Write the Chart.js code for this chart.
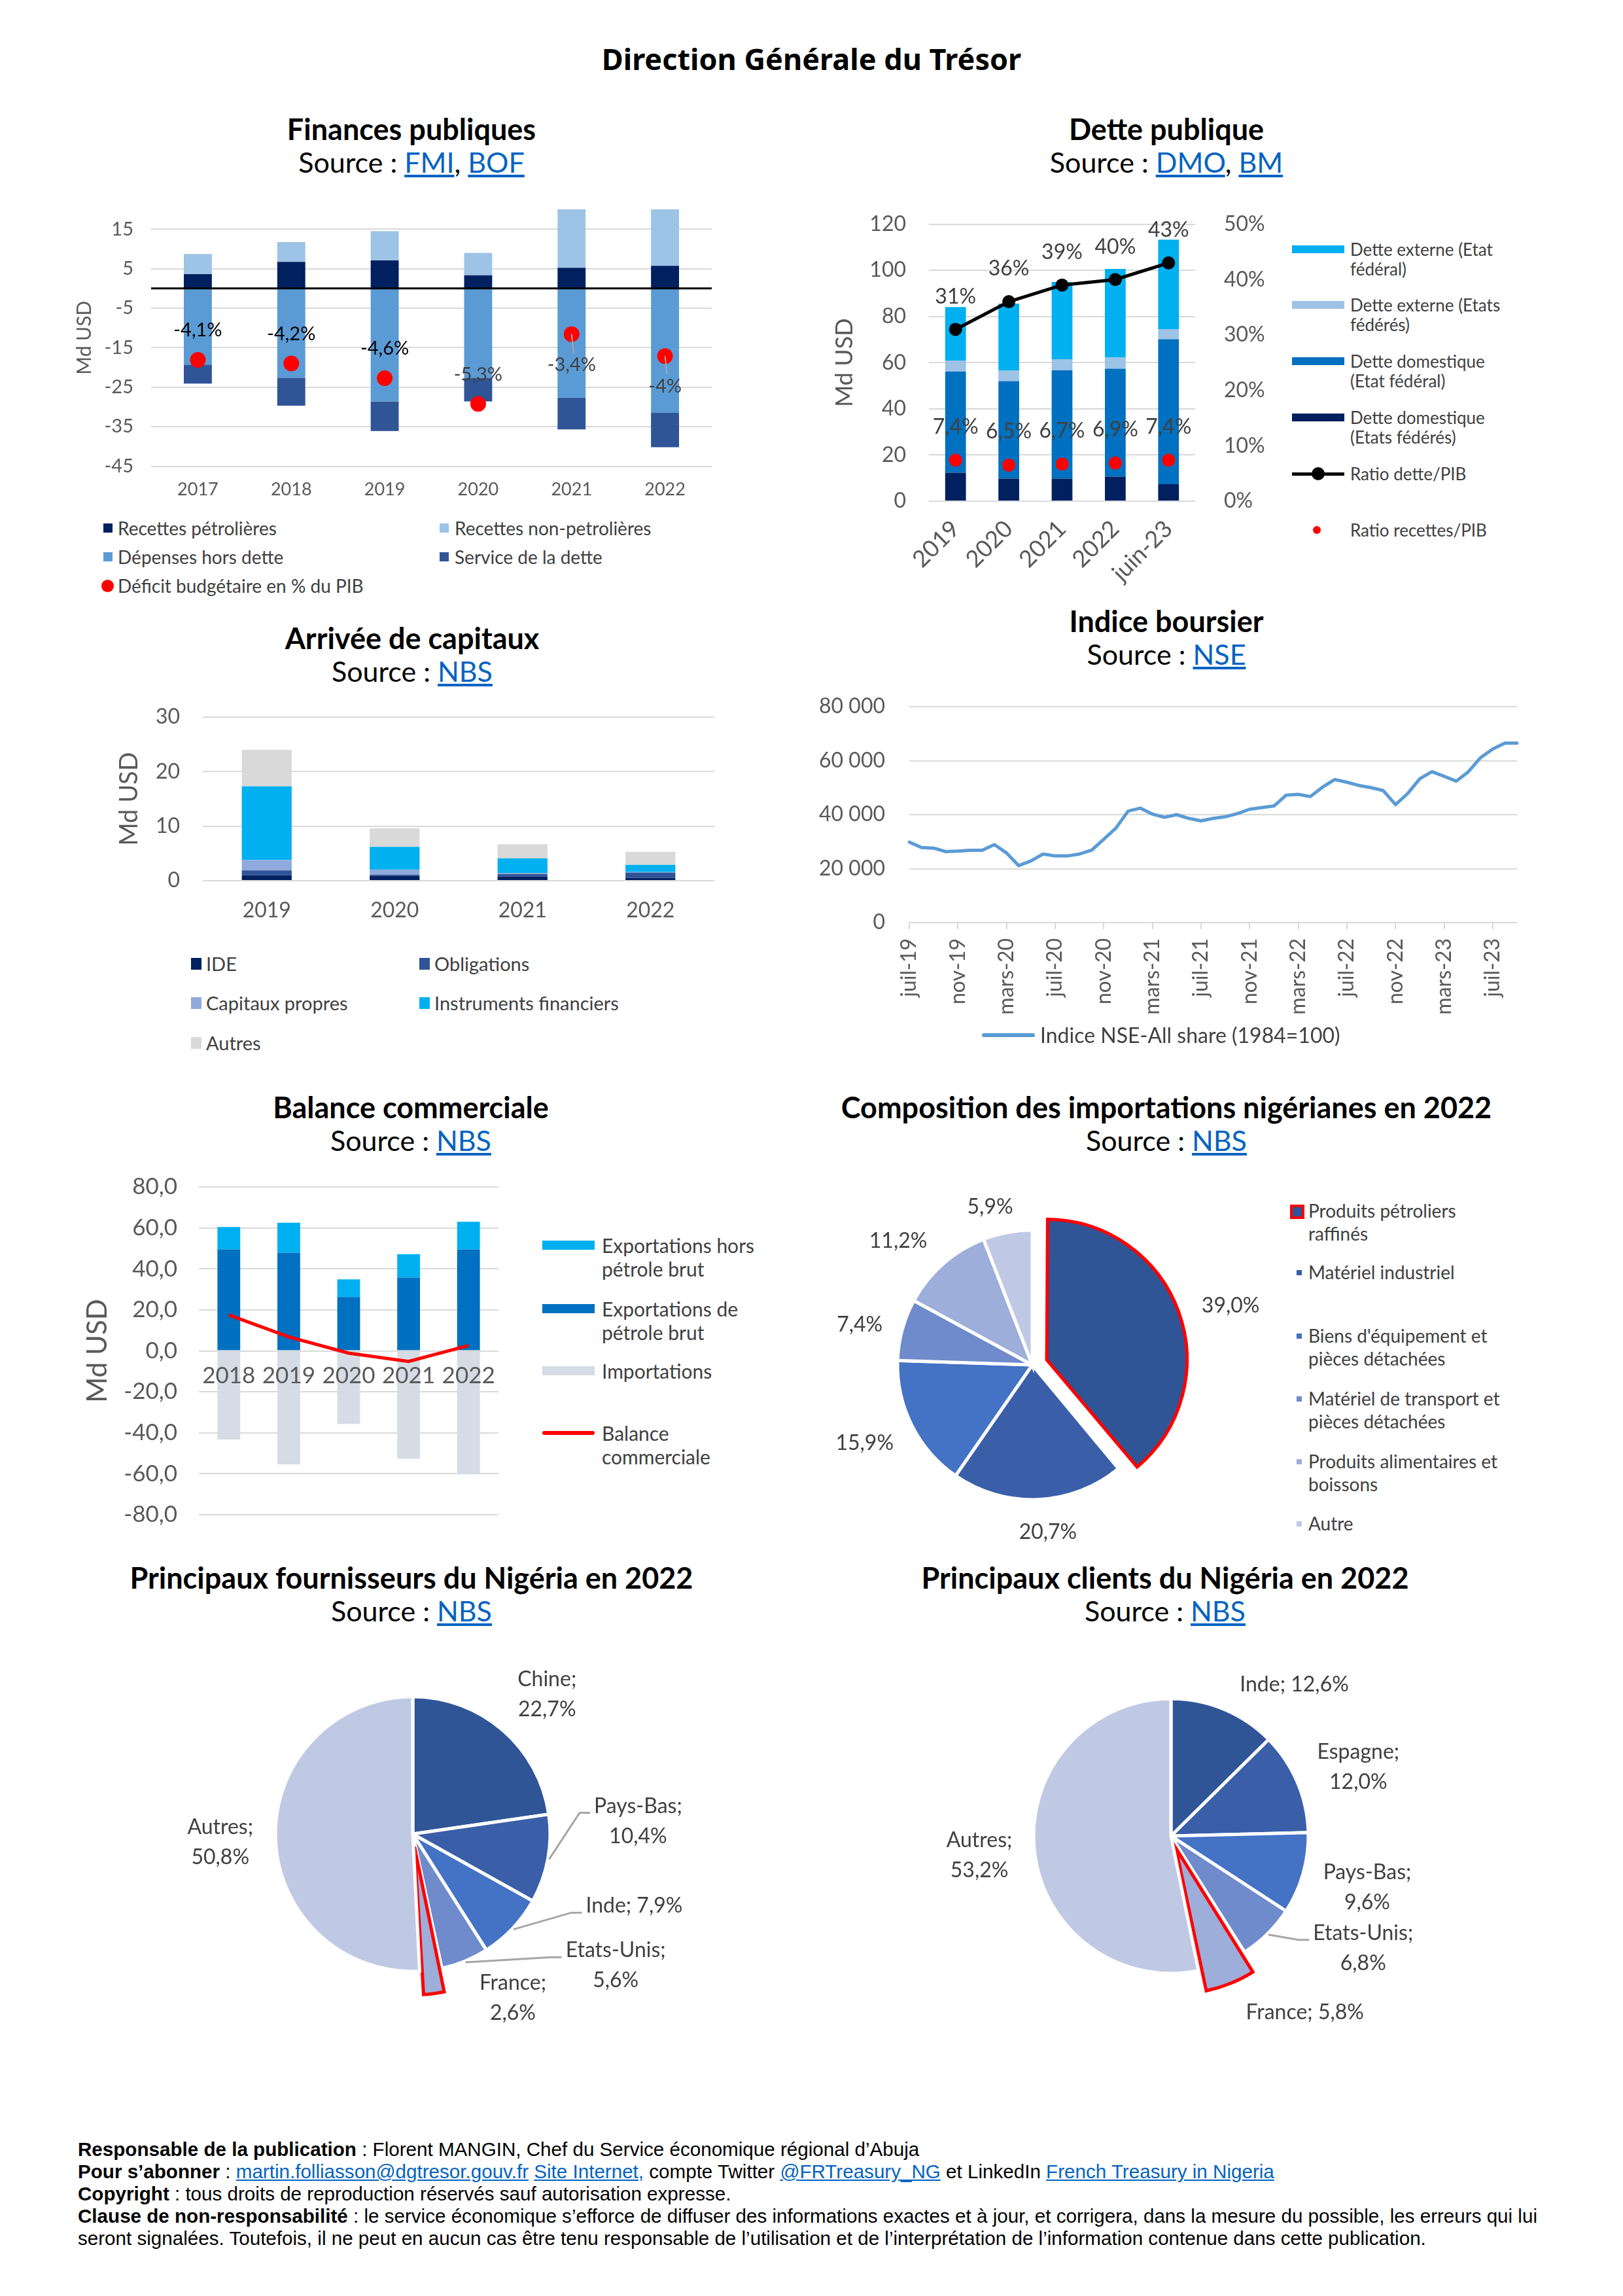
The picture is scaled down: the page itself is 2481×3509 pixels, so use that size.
<!DOCTYPE html>
<html lang="fr">
<head>
<meta charset="utf-8">
<title>Direction Générale du Trésor</title>
<script src="https://cdn.jsdelivr.net/npm/chart.js@4.4.0/dist/chart.umd.min.js"></script>
<style>
  html, body { margin: 0; padding: 0; background: #fff; }
  #page { position: relative; width: 2481px; height: 3509px; font-family: Lato, 'Noto Sans', sans-serif; color: #000; overflow: hidden; }
  .head { position: absolute; left: 0; width: 2481px; top: 64px; text-align: center; font-family: 'Noto Sans', sans-serif; font-weight: 700; font-size: 45px; line-height: 52px; }
  .ttl { position: absolute; width: 1100px; text-align: center; font-size: 43px; line-height: 50px; }
  .ttl b { font-weight: 700; font-size: 45px; }
  a { color: #0563C1; text-decoration: underline; }
  .box { position: absolute; }
  .leg { position: absolute; color: #404040; white-space: nowrap; }
  .mk { position: absolute; }
  #footer { position: absolute; left: 119px; top: 3268px; font-family: 'Liberation Sans', Arial, sans-serif; font-size: 29.6px; line-height: 34px; white-space: nowrap; color: #000; }
</style>
</head>
<body>
<div id="page">
  <div class="head">Direction Générale du Trésor</div>

  <!-- titres -->
  <div class="ttl" style="left:79px;top:172px"><b>Finances publiques</b><br>Source : <a>FMI</a>, <a>BOF</a></div>
  <div class="ttl" style="left:1233px;top:172px"><b>Dette publique</b><br>Source : <a>DMO</a>, <a>BM</a></div>
  <div class="ttl" style="left:80px;top:950px"><b>Arrivée de capitaux</b><br>Source : <a>NBS</a></div>
  <div class="ttl" style="left:1233px;top:924px"><b>Indice boursier</b><br>Source : <a>NSE</a></div>
  <div class="ttl" style="left:78px;top:1667px"><b>Balance commerciale</b><br>Source : <a>NBS</a></div>
  <div class="ttl" style="left:1233px;top:1667px"><b>Composition des importations nigérianes en 2022</b><br>Source : <a>NBS</a></div>
  <div class="ttl" style="left:79px;top:2386px"><b>Principaux fournisseurs du Nigéria en 2022</b><br>Source : <a>NBS</a></div>
  <div class="ttl" style="left:1231px;top:2386px"><b>Principaux clients du Nigéria en 2022</b><br>Source : <a>NBS</a></div>

  <!-- graphiques -->
  <div class="box" style="left:100px;top:300px;width:1000px;height:480px"><canvas id="financeChart"></canvas></div>
  <div class="box" style="left:1250px;top:300px;width:700px;height:620px"><canvas id="debtChart"></canvas></div>
  <div class="box" style="left:100px;top:1060px;width:1000px;height:370px"><canvas id="capitalChart"></canvas></div>
  <div class="box" style="left:1250px;top:1050px;width:1090px;height:520px"><canvas id="stockChart"></canvas></div>
  <div class="box" style="left:100px;top:1790px;width:680px;height:560px"><canvas id="tradeChart"></canvas></div>
  <div class="box" style="left:1200px;top:1800px;width:756px;height:572px"><canvas id="importChart"></canvas></div>
  <div class="box" style="left:181px;top:2493px;width:900px;height:620px"><canvas id="supplierChart"></canvas></div>
  <div class="box" style="left:1390px;top:2496px;width:800px;height:620px"><canvas id="clientChart"></canvas></div>

  <!-- légende finances publiques -->
  <div class="mk" style="left:158px;top:800px;width:14px;height:14px;background:#002060"></div>
  <div class="leg" style="left:180px;top:791px;font-size:28px;line-height:32px">Recettes pétrolières</div>
  <div class="mk" style="left:672px;top:800px;width:14px;height:14px;background:#9DC3E6"></div>
  <div class="leg" style="left:695px;top:791px;font-size:28px;line-height:32px">Recettes non-petrolières</div>
  <div class="mk" style="left:158px;top:844px;width:14px;height:14px;background:#5B9BD5"></div>
  <div class="leg" style="left:180px;top:835px;font-size:28px;line-height:32px">Dépenses hors dette</div>
  <div class="mk" style="left:672px;top:844px;width:14px;height:14px;background:#2F5597"></div>
  <div class="leg" style="left:695px;top:835px;font-size:28px;line-height:32px">Service de la dette</div>
  <div class="mk" style="left:155px;top:886px;width:19px;height:19px;border-radius:50%;background:#FF0000"></div>
  <div class="leg" style="left:180px;top:879px;font-size:28px;line-height:32px">Déficit budgétaire en % du PIB</div>

  <!-- légende dette publique -->
  <div class="mk" style="left:1975px;top:375px;width:80px;height:12px;background:#00B0F0"></div>
  <div class="leg" style="left:2064px;top:366px;font-size:26px;line-height:30px">Dette externe (Etat<br>fédéral)</div>
  <div class="mk" style="left:1975px;top:460px;width:80px;height:12px;background:#9DC3E6"></div>
  <div class="leg" style="left:2064px;top:451px;font-size:26px;line-height:30px">Dette externe (Etats<br>fédérés)</div>
  <div class="mk" style="left:1975px;top:546px;width:80px;height:12px;background:#0070C0"></div>
  <div class="leg" style="left:2064px;top:537px;font-size:26px;line-height:30px">Dette domestique<br>(Etat fédéral)</div>
  <div class="mk" style="left:1975px;top:632px;width:80px;height:12px;background:#002060"></div>
  <div class="leg" style="left:2064px;top:623px;font-size:26px;line-height:30px">Dette domestique<br>(Etats fédérés)</div>
  <div class="mk" style="left:1975px;top:722px;width:80px;height:5px;background:#000"></div>
  <div class="mk" style="left:2005px;top:714px;width:20px;height:20px;border-radius:50%;background:#000"></div>
  <div class="leg" style="left:2064px;top:709px;font-size:26px;line-height:30px">Ratio dette/PIB</div>
  <div class="mk" style="left:2007px;top:804px;width:12px;height:12px;border-radius:50%;background:#FF0000"></div>
  <div class="leg" style="left:2064px;top:795px;font-size:26px;line-height:30px">Ratio recettes/PIB</div>

  <!-- légende arrivée de capitaux -->
  <div class="mk" style="left:292px;top:1464px;width:16px;height:18px;background:#002060"></div>
  <div class="leg" style="left:315px;top:1456px;font-size:29px;line-height:34px">IDE</div>
  <div class="mk" style="left:641px;top:1464px;width:16px;height:18px;background:#2F5597"></div>
  <div class="leg" style="left:664px;top:1456px;font-size:29px;line-height:34px">Obligations</div>
  <div class="mk" style="left:292px;top:1524px;width:16px;height:18px;background:#8FAADC"></div>
  <div class="leg" style="left:315px;top:1516px;font-size:29px;line-height:34px">Capitaux propres</div>
  <div class="mk" style="left:641px;top:1524px;width:16px;height:18px;background:#00B0F0"></div>
  <div class="leg" style="left:664px;top:1516px;font-size:29px;line-height:34px">Instruments financiers</div>
  <div class="mk" style="left:292px;top:1585px;width:16px;height:18px;background:#D9D9D9"></div>
  <div class="leg" style="left:315px;top:1577px;font-size:29px;line-height:34px">Autres</div>

  <!-- légende indice boursier -->
  <div class="mk" style="left:1501px;top:1579px;width:81px;height:6px;border-radius:3px;background:#5B9BD5"></div>
  <div class="leg" style="left:1590px;top:1563px;font-size:32px;line-height:38px">Indice NSE-All share (1984=100)</div>

  <!-- légende balance commerciale -->
  <div class="mk" style="left:829px;top:1896px;width:80px;height:14px;background:#00B0F0"></div>
  <div class="leg" style="left:920px;top:1885px;font-size:30px;line-height:36px">Exportations hors<br>pétrole brut</div>
  <div class="mk" style="left:829px;top:1993px;width:80px;height:14px;background:#0070C0"></div>
  <div class="leg" style="left:920px;top:1982px;font-size:30px;line-height:36px">Exportations de<br>pétrole brut</div>
  <div class="mk" style="left:829px;top:2088px;width:80px;height:14px;background:#D6DCE5"></div>
  <div class="leg" style="left:920px;top:2077px;font-size:30px;line-height:36px">Importations</div>
  <div class="mk" style="left:829px;top:2187px;width:80px;height:6px;border-radius:3px;background:#FF0000"></div>
  <div class="leg" style="left:920px;top:2172px;font-size:30px;line-height:36px">Balance<br>commerciale</div>

  <!-- légende composition des importations -->
  <div class="mk" style="left:1972px;top:1841px;width:14px;height:14px;border:4px solid #FF0000;background:#2F5597"></div>
  <div class="leg" style="left:2000px;top:1833px;font-size:28px;line-height:35px">Produits pétroliers<br>raffinés</div>
  <div class="mk" style="left:1982px;top:1941px;width:8px;height:8px;background:#3A5FA8"></div>
  <div class="leg" style="left:2000px;top:1927px;font-size:28px;line-height:35px">Matériel industriel</div>
  <div class="mk" style="left:1982px;top:2038px;width:8px;height:8px;background:#4472C4"></div>
  <div class="leg" style="left:2000px;top:2024px;font-size:28px;line-height:35px">Biens d'équipement et<br>pièces détachées</div>
  <div class="mk" style="left:1982px;top:2134px;width:8px;height:8px;background:#6F8BCB"></div>
  <div class="leg" style="left:2000px;top:2120px;font-size:28px;line-height:35px">Matériel de transport et<br>pièces détachées</div>
  <div class="mk" style="left:1982px;top:2230px;width:8px;height:8px;background:#9DAEDB"></div>
  <div class="leg" style="left:2000px;top:2216px;font-size:28px;line-height:35px">Produits alimentaires et<br>boissons</div>
  <div class="mk" style="left:1982px;top:2325px;width:8px;height:8px;background:#C0C9E4"></div>
  <div class="leg" style="left:2000px;top:2311px;font-size:28px;line-height:35px">Autre</div>

  <div id="footer">
    <b>Responsable de la publication</b> : Florent MANGIN, Chef du Service économique régional d’Abuja<br>
    <b>Pour s’abonner</b> : <a>martin.folliasson@dgtresor.gouv.fr</a> <a>Site Internet,</a> compte Twitter <a>@FRTreasury_NG</a> et LinkedIn <a>French Treasury in Nigeria</a><br>
    <b>Copyright</b> : tous droits de reproduction réservés sauf autorisation expresse.<br>
    <b>Clause de non-responsabilité</b> : le service économique s’efforce de diffuser des informations exactes et à jour, et corrigera, dans la mesure du possible, les erreurs qui lui<br>
    seront signalées. Toutefois, il ne peut en aucun cas être tenu responsable de l’utilisation et de l’interprétation de l’information contenue dans cette publication.
  </div>
</div>

<script>
// Finances publiques (Md USD)
const financeYears = ['2017', '2018', '2019', '2020', '2021', '2022'];
const oilRevenue = [3.6, 6.7, 7.1, 3.3, 5.2, 5.7];
const nonOilRevenue = [5.1, 5.0, 7.4, 5.7, 16.0, 16.0];
const spendingExDebt = [-19.3, -22.6, -28.6, -22.6, -27.6, -31.5];
const debtService = [-4.8, -7.1, -7.5, -6.0, -8.1, -8.7];
const deficitPct = [-4.1, -4.2, -4.6, -5.3, -3.4, -4.0];
const financeTicks = [-45, -35, -25, -15, -5, 5, 15];

// Dette publique (Md USD, % du PIB)
const debtPeriods = ['2019', '2020', '2021', '2022', 'juin-23'];
const domesticStates = [12.3, 9.8, 9.8, 10.6, 7.4];
const domesticFederal = [43.9, 42.2, 46.9, 46.8, 62.7];
const externalStates = [4.7, 4.7, 4.8, 4.8, 4.4];
const externalFederal = [23.2, 28.9, 33.4, 38.4, 38.8];
const debtToGdp = [31, 36, 39, 40, 43];
const revenueToGdp = [7.4, 6.5, 6.7, 6.9, 7.4];

// Arrivée de capitaux (Md USD)
const capitalYears = ['2019', '2020', '2021', '2022'];
const fdiFlows = [1.0, 0.9, 0.75, 0.5];
const bondFlows = [0.9, 0.2, 0.45, 1.0];
const equityFlows = [1.9, 0.9, 0.25, 0.1];
const instrumentFlows = [13.5, 4.2, 2.65, 1.3];
const otherFlows = [6.7, 3.4, 2.6, 2.4];

// Indice NSE-All share
const stockMonths = [
  'juil-19', 'août-19', 'sept-19', 'oct-19', 'nov-19', 'déc-19',
  'janv-20', 'févr-20', 'mars-20', 'avr-20', 'mai-20', 'juin-20', 'juil-20', 'août-20', 'sept-20', 'oct-20', 'nov-20', 'déc-20',
  'janv-21', 'févr-21', 'mars-21', 'avr-21', 'mai-21', 'juin-21', 'juil-21', 'août-21', 'sept-21', 'oct-21', 'nov-21', 'déc-21',
  'janv-22', 'févr-22', 'mars-22', 'avr-22', 'mai-22', 'juin-22', 'juil-22', 'août-22', 'sept-22', 'oct-22', 'nov-22', 'déc-22',
  'janv-23', 'févr-23', 'mars-23', 'avr-23', 'mai-23', 'juin-23', 'juil-23', 'août-23', 'sept-23'
];
const stockIndex = [
  29800, 27800, 27600, 26300, 26500, 26800,
  26800, 28900, 25800, 21100, 22800, 25400, 24700, 24700, 25400, 26800, 30900, 35000,
  41300, 42400, 40200, 39000, 40000, 38600, 37700, 38600, 39200, 40400, 42000, 42600,
  43200, 47200, 47500, 46700, 50200, 53000, 52000, 50800, 50000, 48900, 43700, 47800,
  53300, 55900, 54200, 52400, 55900, 61100, 64300, 66500, 66500
];

// Balance commerciale (Md USD)
const tradeYears = ['2018', '2019', '2020', '2021', '2022'];
const crudeExports = [49.5, 47.8, 26.3, 35.8, 49.5];
const nonCrudeExports = [10.9, 14.7, 8.6, 11.4, 13.5];
const importValues = [-43.3, -55.4, -35.7, -52.7, -60.3];
const tradeBalance = [17.5, 6.8, -1.1, -5.2, 2.6];

// Composition des importations 2022 (%)
const importCategories = ['Produits pétroliers raffinés', 'Matériel industriel', "Biens d'équipement et pièces détachées",
  'Matériel de transport et pièces détachées', 'Produits alimentaires et boissons', 'Autre'];
const importShares = [39.0, 20.7, 15.9, 7.4, 11.2, 5.9];

// Fournisseurs et clients 2022 (%)
const supplierNames = ['Chine', 'Pays-Bas', 'Inde', 'Etats-Unis', 'France', 'Autres'];
const supplierShares = [22.7, 10.4, 7.9, 5.6, 2.6, 50.8];
const clientNames = ['Inde', 'Espagne', 'Pays-Bas', 'Etats-Unis', 'France', 'Autres'];
const clientShares = [12.6, 12.0, 9.6, 6.8, 5.8, 53.2];

const pieShades = ['#2F5597', '#3A5FA8', '#4472C4', '#6F8BCB', '#9DAEDB', '#C0C9E4'];

Chart.defaults.font.family = "Lato, 'Noto Sans', sans-serif";
Chart.defaults.color = '#595959';
Chart.defaults.animation = false;
Chart.defaults.plugins.legend.display = false;
Chart.defaults.plugins.tooltip.enabled = false;

// largeur / hauteur fixes des axes, sans la marge ajoutée par les étiquettes
function fixWidth(w) {
    return function (scale) { scale.width = w; scale.paddingTop = 0; scale.paddingBottom = 0; };
}
function fixHeight(h) {
    return function (scale) { scale.height = h; scale.paddingLeft = 0; scale.paddingRight = 0; };
}
function frPct(v) { return String(v).replace('.', ',') + '%'; }
function frPct1(v) { return v.toFixed(1).replace('.', ',') + '%'; }

const gridStyle = { color: '#D9D9D9', lineWidth: 2, drawTicks: false };

// texte au-dessus / au-dessous des points
const pointText = {
    id: 'pointText',
    afterDatasetsDraw(chart) {
        const ctx = chart.ctx;
        chart.data.datasets.forEach((ds, di) => {
            if (!ds.pointText) return;
            const meta = chart.getDatasetMeta(di);
            ctx.save();
            ctx.font = ds.pointTextSize + 'px Lato';
            ctx.textAlign = 'center';
            ctx.textBaseline = 'middle';
            meta.data.forEach((pt, i) => {
                const dy = Array.isArray(ds.pointTextDy) ? ds.pointTextDy[i] : ds.pointTextDy;
                if (ds.pointTextLeader && ds.pointTextLeader[i]) {
                    ctx.beginPath();
                    ctx.moveTo(pt.x, pt.y);
                    ctx.lineTo(pt.x + 3, pt.y + dy - 18);
                    ctx.strokeStyle = '#A6A6A6';
                    ctx.lineWidth = 2;
                    ctx.stroke();
                }
                ctx.fillStyle = Array.isArray(ds.pointTextColor) ? ds.pointTextColor[i] : ds.pointTextColor;
                ctx.fillText(ds.pointText[i], pt.x, pt.y + dy);
            });
            ctx.restore();
        });
    }
};

// ligne noire du zéro, par-dessus les barres
const zeroLine = {
    id: 'zeroLine',
    afterDatasetsDraw(chart) {
        const {ctx, chartArea, scales} = chart;
        const y = scales.y.getPixelForValue(0);
        ctx.save();
        ctx.beginPath();
        ctx.moveTo(chartArea.left, y);
        ctx.lineTo(chartArea.right, y);
        ctx.strokeStyle = '#000';
        ctx.lineWidth = 3;
        ctx.stroke();
        ctx.restore();
    }
};

// étiquettes des secteurs
const pieLabels = {
    id: 'pieLabels',
    afterDatasetsDraw(chart, args, opts) {
        const ctx = chart.ctx;
        const meta = chart.getDatasetMeta(0);
        ctx.save();
        ctx.font = opts.size + 'px Lato';
        ctx.fillStyle = '#404040';
        ctx.textAlign = 'center';
        ctx.textBaseline = 'middle';
        meta.data.forEach((arc, i) => {
            const lines = opts.texts[i];
            const mid = (arc.startAngle + arc.endAngle) / 2;
            const dx = Math.cos(mid), dy = Math.sin(mid);
            const circ = arc.endAngle - arc.startAngle;
            const shift = (arc.options.offset || 0) / 4 * (2 - Math.sin(Math.min(Math.PI, circ)));
            const r = arc.outerRadius + shift;
            const w = Math.max(...lines.map(t => ctx.measureText(t).width));
            const h = lines.length * opts.lineHeight;
            const nudge = opts.nudges[i];
            const cx = arc.x + dx * (r + opts.gap) + dx * w / 2 + nudge[0];
            const cy = arc.y + dy * (r + opts.gap) + dy * h / 2 + nudge[1];
            const top = cy - h / 2;
            if (opts.leaders && opts.leaders[i]) {
                const lx = cx - w / 2, ly = top + opts.lineHeight / 2 + 10;
                ctx.beginPath();
                ctx.moveTo(arc.x + dx * (r + 2), arc.y + dy * (r + 2));
                ctx.lineTo(lx - 22, ly);
                ctx.lineTo(lx - 6, ly);
                ctx.strokeStyle = '#A6A6A6';
                ctx.lineWidth = 3;
                ctx.stroke();
            }
            lines.forEach((t, k) => ctx.fillText(t, cx, top + opts.lineHeight * (k + 0.5)));
        });
        ctx.restore();
    }
};

// --- Finances publiques ---
new Chart(document.getElementById('financeChart'), {
    type: 'bar',
    data: {
        labels: financeYears,
        datasets: [
            {label: 'Recettes pétrolières', data: oilRevenue, backgroundColor: '#002060', order: 1},
            {label: 'Recettes non-petrolières', data: nonOilRevenue, backgroundColor: '#9DC3E6', order: 1},
            {label: 'Dépenses hors dette', data: spendingExDebt, backgroundColor: '#5B9BD5', order: 1},
            {label: 'Service de la dette', data: debtService, backgroundColor: '#2F5597', order: 1},
            {
                type: 'line', label: 'Déficit budgétaire en % du PIB', data: deficitPct, yAxisID: 'y1',
                showLine: false, pointRadius: 12, pointBorderWidth: 0, pointBackgroundColor: '#FF0000', order: 0,
                pointText: deficitPct.map(frPct), pointTextSize: 29,
                pointTextDy: [-45, -45, -45, -45, 47, 46],
                pointTextLeader: [false, false, false, false, true, true],
                pointTextColor: ['#000', '#000', '#000', '#404040', '#404040', '#404040']
            }
        ]
    },
    options: {
        responsive: true,
        maintainAspectRatio: false,
        layout: {padding: {top: 20, right: 11}},
        datasets: {bar: {barPercentage: 0.30, categoryPercentage: 1}},
        scales: {
            x: {
                stacked: true,
                afterFit: fixHeight(67.5),
                grid: {display: false},
                border: {display: false},
                ticks: {font: {size: 27}, padding: 12}
            },
            y: {
                stacked: true, min: -45, max: 20,
                afterFit: fixWidth(131),
                afterBuildTicks: function (scale) { scale.ticks = financeTicks.map(v => ({value: v})); },
                grid: gridStyle,
                border: {display: false},
                ticks: {font: {size: 29}, padding: 27},
                title: {display: true, text: 'Md USD', font: {size: 30}, color: '#595959', padding: {top: 11, bottom: 0}}
            },
            y1: {display: false, min: -7, max: 0}
        }
    },
    plugins: [zeroLine, pointText]
});

// --- Dette publique ---
new Chart(document.getElementById('debtChart'), {
    type: 'bar',
    data: {
        labels: debtPeriods,
        datasets: [
            {label: 'Dette domestique (Etats fédérés)', data: domesticStates, backgroundColor: '#002060', order: 1},
            {label: 'Dette domestique (Etat fédéral)', data: domesticFederal, backgroundColor: '#0070C0', order: 1},
            {label: 'Dette externe (Etats fédérés)', data: externalStates, backgroundColor: '#9DC3E6', order: 1},
            {label: 'Dette externe (Etat fédéral)', data: externalFederal, backgroundColor: '#00B0F0', order: 1},
            {
                type: 'line', label: 'Ratio dette/PIB', data: debtToGdp, yAxisID: 'y1', order: 0,
                borderColor: '#000', borderWidth: 5, tension: 0,
                pointRadius: 10, pointBorderWidth: 0, pointBackgroundColor: '#000',
                pointText: debtToGdp.map(v => v + '%'), pointTextSize: 32, pointTextDy: -50, pointTextColor: '#404040'
            },
            {
                type: 'line', label: 'Ratio recettes/PIB', data: revenueToGdp, yAxisID: 'y1', order: 0,
                showLine: false, pointRadius: 10, pointBorderWidth: 0, pointBackgroundColor: '#FF0000',
                pointText: revenueToGdp.map(frPct), pointTextSize: 32, pointTextDy: -51, pointTextColor: '#404040'
            }
        ]
    },
    options: {
        responsive: true,
        maintainAspectRatio: false,
        layout: {padding: {top: 42.5, right: 0}},
        datasets: {bar: {barPercentage: 0.39, categoryPercentage: 1}},
        scales: {
            x: {
                stacked: true,
                afterFit: fixHeight(154),
                grid: {display: false},
                border: {display: false},
                ticks: {font: {size: 36}, minRotation: 45, maxRotation: 45, padding: 13}
            },
            y: {
                stacked: true, min: 0, max: 120,
                afterFit: fixWidth(170),
                grid: gridStyle,
                border: {display: false},
                ticks: {stepSize: 20, font: {size: 32}, padding: 35},
                title: {display: true, text: 'Md USD', font: {size: 36}, color: '#595959', padding: {top: 20, bottom: 0}}
            },
            y1: {
                position: 'right', min: 0, max: 50,
                afterFit: fixWidth(123),
                grid: {display: false},
                border: {display: false},
                ticks: {stepSize: 10, font: {size: 32}, padding: 36, callback: v => v + '%'}
            }
        }
    },
    plugins: [pointText]
});

// --- Arrivée de capitaux ---
new Chart(document.getElementById('capitalChart'), {
    type: 'bar',
    data: {
        labels: capitalYears,
        datasets: [
            {label: 'IDE', data: fdiFlows, backgroundColor: '#002060'},
            {label: 'Obligations', data: bondFlows, backgroundColor: '#2F5597'},
            {label: 'Capitaux propres', data: equityFlows, backgroundColor: '#8FAADC'},
            {label: 'Instruments financiers', data: instrumentFlows, backgroundColor: '#00B0F0'},
            {label: 'Autres', data: otherFlows, backgroundColor: '#D9D9D9'}
        ]
    },
    options: {
        responsive: true,
        maintainAspectRatio: false,
        layout: {padding: {top: 36, right: 8}},
        datasets: {bar: {barPercentage: 0.39, categoryPercentage: 1}},
        scales: {
            x: {
                stacked: true,
                afterFit: fixHeight(84),
                grid: {display: false},
                border: {display: false},
                ticks: {font: {size: 32}, padding: 18}
            },
            y: {
                stacked: true, min: 0, max: 30,
                afterFit: fixWidth(210),
                grid: gridStyle,
                border: {display: false},
                ticks: {stepSize: 10, font: {size: 32}, padding: 35},
                title: {display: true, text: 'Md USD', font: {size: 38}, color: '#595959', padding: {top: 75, bottom: 0}}
            }
        }
    }
});

// --- Indice boursier ---
new Chart(document.getElementById('stockChart'), {
    type: 'line',
    data: {
        labels: stockMonths,
        datasets: [{
            label: 'Indice NSE-All share (1984=100)', data: stockIndex,
            borderColor: '#5B9BD5', borderWidth: 5, pointRadius: 0, tension: 0,
            borderJoinStyle: 'round', borderCapStyle: 'round'
        }]
    },
    options: {
        responsive: true,
        maintainAspectRatio: false,
        layout: {padding: {top: 30, right: 21}},
        scales: {
            x: {
                afterFit: fixHeight(160),
                grid: {drawOnChartArea: false, drawTicks: true, tickLength: 10, color: '#D9D9D9', lineWidth: 2},
                border: {display: false},
                ticks: {
                    autoSkip: false, minRotation: 90, maxRotation: 90, font: {size: 32}, padding: 14,
                    callback: function (value, index) { return index % 4 === 0 ? stockMonths[index] : null; }
                }
            },
            y: {
                min: 0, max: 80000,
                afterFit: fixWidth(140),
                grid: gridStyle,
                border: {display: false},
                ticks: {stepSize: 20000, font: {size: 32}, padding: 37, callback: v => v === 0 ? '0' : (v / 1000) + ' 000'}
            }
        }
    }
});

// --- Balance commerciale ---
new Chart(document.getElementById('tradeChart'), {
    type: 'bar',
    data: {
        labels: tradeYears,
        datasets: [
            {label: 'Exportations de pétrole brut', data: crudeExports, backgroundColor: '#0070C0', order: 1},
            {label: 'Exportations hors pétrole brut', data: nonCrudeExports, backgroundColor: '#00B0F0', order: 1},
            {label: 'Importations', data: importValues, backgroundColor: '#D6DCE5', order: 1},
            {
                type: 'line', label: 'Balance commerciale', data: tradeBalance, order: 0,
                borderColor: '#FF0000', borderWidth: 5, pointRadius: 0, tension: 0
            }
        ]
    },
    options: {
        responsive: true,
        maintainAspectRatio: false,
        layout: {padding: {top: 24, right: 18, bottom: 35}},
        datasets: {bar: {barPercentage: 0.38, categoryPercentage: 1}},
        scales: {
            x: {
                stacked: true,
                position: {y: 0},
                afterFit: function (scale) { scale.paddingLeft = 0; scale.paddingRight = 0; },
                grid: {display: false},
                border: {display: false},
                ticks: {font: {size: 35}, padding: 9, z: 1}
            },
            y: {
                stacked: true, min: -80, max: 80,
                afterFit: fixWidth(204),
                grid: gridStyle,
                border: {display: false},
                ticks: {stepSize: 20, font: {size: 35}, padding: 33, callback: v => v.toFixed(1).replace('.', ',')},
                title: {display: true, text: 'Md USD', font: {size: 42}, color: '#595959', padding: {top: 24, bottom: 0}}
            }
        }
    }
});

// --- Secteurs ---
function pieChart(id, labels, values, exploded, offset, radius, labelOpts) {
    return new Chart(document.getElementById(id), {
        type: 'pie',
        data: {
            labels: labels,
            datasets: [{
                data: values,
                backgroundColor: pieShades,
                borderColor: labels.map((l, i) => i === exploded ? '#FF0000' : '#FFFFFF'),
                borderWidth: 5,
                borderJoinStyle: 'miter',
                offset: labels.map((l, i) => i === exploded ? offset : 0),
                radius: radius
            }]
        },
        options: {
            responsive: true,
            maintainAspectRatio: false,
            layout: {padding: 0},
            plugins: {pieLabels: labelOpts}
        },
        plugins: [pieLabels]
    });
}

pieChart('importChart', importCategories, importShares, 0, 94, 206, {
    size: 32, lineHeight: 40, gap: 22,
    texts: importShares.map(v => [frPct1(v)]),
    nudges: [[17, 5], [12, 8], [-13, 8], [-10, 4], [-25, -3], [-16, 2]]
});

pieChart('supplierChart', supplierNames, supplierShares, 4, 78, 210, {
    size: 32, lineHeight: 46, gap: 22,
    texts: supplierNames.map((n, i) => i === 2 ? [n + '; ' + frPct1(supplierShares[i])] : [n + ';', frPct1(supplierShares[i])]),
    nudges: [[24, -3], [50, -70], [116, -65], [193, -56], [111, -60], [-12, 6]],
    leaders: [false, true, true, true, false, false]
});

pieChart('clientChart', clientNames, clientShares, 4, 80, 210, {
    size: 32, lineHeight: 46, gap: 22,
    texts: clientNames.map((n, i) => (i === 0 || i === 4) ? [n + '; ' + frPct1(clientShares[i])] : [n + ';', frPct1(clientShares[i])]),
    nudges: [[67, 4], [15, 3], [12, 3], [77, -26], [72, 3], [-12, 2]],
    leaders: [false, false, false, true, false, false]
});
</script>
</body>
</html>
